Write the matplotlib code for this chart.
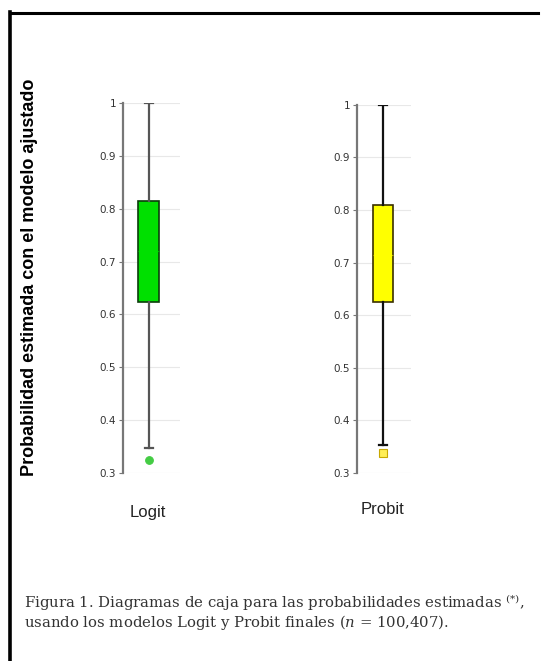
import matplotlib.pyplot as plt
from matplotlib.lines import Line2D

# resumen de las probabilidades estimadas por modelo
modelos = ['Logit', 'Probit']
bigote_sup = [1.0, 1.0]
q3 = [0.815, 0.81]
mediana = [0.72, 0.714]
q1 = [0.624, 0.625]
bigote_inf = [0.348, 0.352]
atipicos = [[0.325], [0.337]]
marcas_y = [0.3, 0.4, 0.5, 0.6, 0.7, 0.8, 0.9, 1.0]
etiquetas_y = ['0.3', '0.4', '0.5', '0.6', '0.7', '0.8', '0.9', '1']

relleno = ['#00e000', '#ffff00']
borde = ['#0b3d0b', '#3a3000']
color_bigote = ['#555555', '#111111']
marcador = ['o', 's']
color_atipico = [('#44cc44', '#44cc44'), ('#ffee55', '#c8a800')]

plt.rcParams['mathtext.fontset'] = 'dejavuserif'

fig = plt.figure(figsize=(5.44, 6.61), dpi=100)

# posiciones de los paneles (fraccion de la figura)
paneles = [[0.2261, 0.2844, 0.104, 0.5598], [0.6562, 0.2849, 0.100, 0.5563]]

for i, nombre in enumerate(modelos):
    ax = fig.add_axes(paneles[i])
    stats = [{'whislo': bigote_inf[i], 'q1': q1[i], 'med': mediana[i],
              'q3': q3[i], 'whishi': bigote_sup[i], 'fliers': atipicos[i]}]
    ax.bxp(stats, positions=[1], widths=0.8, patch_artist=True,
           boxprops=dict(facecolor=relleno[i], edgecolor=borde[i], linewidth=1.2),
           medianprops=dict(color=relleno[i], linewidth=0.8, alpha=0.6),
           whiskerprops=dict(color=color_bigote[i], linewidth=1.6),
           capprops=dict(color=color_bigote[i], linewidth=1.6),
           capwidths=0.3,
           flierprops=dict(marker=marcador[i], markersize=5.5,
                           markerfacecolor=color_atipico[i][0],
                           markeredgecolor=color_atipico[i][1], markeredgewidth=0.8))
    ax.set_xlim(0, 2.2 if i == 0 else 2.1)
    ax.set_ylim(0.3, 1.0)
    ax.set_yticks(marcas_y)
    ax.set_yticklabels(etiquetas_y)
    ax.tick_params(axis='y', labelsize=7.5, length=3, width=0.8, colors='#777777',
                   labelcolor='#333333', pad=2)
    ax.set_xticks([])
    for y in marcas_y:
        ax.axhline(y, color='#e8e8e8', linewidth=0.8, zorder=0)
    for lado in ['top', 'right', 'bottom']:
        ax.spines[lado].set_visible(False)
    ax.spines['left'].set_color('#777777')
    ax.spines['left'].set_linewidth(1.6)
    ax.patch.set_alpha(0)

# nombres de los modelos bajo cada caja
fig.text(148 / 544, 1 - 513 / 661, modelos[0], ha='center', va='center',
         fontsize=12, family='Liberation Sans', color='#222222')
fig.text(383 / 544, 1 - 509 / 661, modelos[1], ha='center', va='center',
         fontsize=12, family='Liberation Sans', color='#222222')

fig.text(30 / 544, 1 - 277 / 661, 'Probabilidad estimada con el modelo ajustado',
         rotation=90, ha='center', va='center', fontsize=13,
         fontweight='bold', family='Liberation Sans')

# pie de figura
fig.text(24 / 544, 1 - 612 / 661,
         'Figura 1. Diagramas de caja para las probabilidades estimadas $^{(*)}$,\n'
         'usando los modelos Logit y Probit finales ($\\it{n}$ = 100,407).',
         ha='left', va='center', fontsize=10.7, linespacing=1.05,
         family='DejaVu Serif', color='#333333')

# marco de la pagina
fig.add_artist(Line2D([10 / 544, 10 / 544], [0, 1 - 12 / 661], color='black',
                      linewidth=2.6, transform=fig.transFigure))
fig.add_artist(Line2D([10 / 544, 538 / 544], [1 - 13 / 661, 1 - 13 / 661], color='black',
                      linewidth=2.2, transform=fig.transFigure))

fig.savefig('out.png', dpi=100)
